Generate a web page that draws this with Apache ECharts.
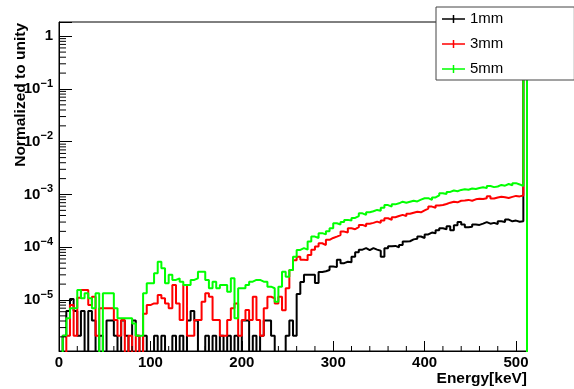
<!DOCTYPE html>
<html>
<head>
<meta charset="utf-8">
<script src="https://cdn.jsdelivr.net/npm/echarts@6/dist/echarts.min.js"></script>
<style>
  html, body { margin: 0; padding: 0; background: #fff; }
  #chart { width: 574px; height: 389px; }
</style>
</head>
<body>
<div id="chart"></div>
<script>
// histogram: 128 bins of 4 keV, 0 - 512 keV
const binWidth = 4;
const seriesNames = ['1mm', '3mm', '5mm'];
const seriesColors = ['#000000', '#ff0000', '#00ff00'];

const hist1mm = [
  0, 2.1e-6, 6.2e-6, 1.04e-5, 6.2e-6, 2.1e-6, 6.2e-6, 0, 6.2e-6, 4.1e-6,
  0, 2.1e-6, 0, 4.1e-6, 4.1e-6, 2.1e-6, 0, 4.1e-6, 2.1e-6, 0,
  4.1e-6, 2.1e-6, 0, 2.1e-6, 0, 0, 2.1e-6, 0, 2.1e-6, 0,
  0, 2.1e-6, 0, 2.1e-6, 0, 4.1e-6, 6.2e-6, 4.1e-6, 0, 0,
  2.1e-6, 0, 2.1e-6, 0, 2.1e-6, 0, 2.1e-6, 0, 2.1e-6, 0,
  4.1e-6, 4.1e-6, 0, 2.1e-6, 0, 2.1e-6, 4.1e-6, 4.1e-6, 2.1e-6, 0,
  0, 0, 2.1e-6, 4.1e-6, 2.1e-6, 1.3e-5, 2.2e-5, 3.0e-5, 3.0e-5, 3.0e-5,
  2.1e-5, 3.4e-5, 3.5e-5, 3.7e-5, 4.3e-5, 4.2e-5, 5.8e-5, 5.0e-5, 5.3e-5, 5.2e-5,
  6.6e-5, 8.0e-5, 9.0e-5, 9.6e-5, 8.8e-5, 9.6e-5, 9.0e-5, 8.6e-5, 6.6e-5, 9.6e-5,
  1.05e-4, 1.06e-4, 1.0e-4, 1.1e-4, 1.28e-4, 1.3e-4, 1.41e-4, 1.45e-4, 1.6e-4, 1.5e-4,
  1.75e-4, 1.9e-4, 1.85e-4, 2.1e-4, 2.3e-4, 2.2e-4, 2.5e-4, 2.1e-4, 2.6e-4, 3.0e-4,
  2.7e-4, 2.4e-4, 2.45e-4, 2.7e-4, 2.65e-4, 2.8e-4, 3.0e-4, 2.8e-4, 2.9e-4, 2.75e-4,
  3.1e-4, 3.0e-4, 3.35e-4, 3.1e-4, 3.2e-4, 3.05e-4, 3.1e-4, 0.99
];

const hist3mm = [
  0, 0, 2.1e-6, 8.0e-6, 2.1e-6, 1.1e-5, 1.55e-5, 1.55e-5, 8.0e-6, 1.15e-5,
  2.1e-6, 7.0e-6, 7.0e-6, 7.0e-6, 7.0e-6, 4.2e-6, 2.1e-6, 4.2e-6, 0, 2.1e-6,
  0, 2.1e-6, 0, 5.5e-6, 8.0e-6, 8.6e-6, 8.6e-6, 1.24e-5, 1.08e-5, 8.6e-6,
  7.0e-6, 1.93e-5, 8.6e-6, 4.2e-6, 1.93e-5, 2.1e-6, 2.1e-6, 4.2e-6, 4.2e-6, 9.3e-6,
  1.34e-5, 1.15e-5, 4.2e-6, 4.2e-6, 2.1e-6, 2.1e-6, 4.2e-6, 7.0e-6, 8.6e-6, 2.1e-6,
  4.2e-6, 6.5e-6, 4.2e-6, 1.15e-5, 4.2e-6, 2.1e-6, 7.0e-6, 1.15e-5, 1.08e-5, 8.6e-6,
  1.15e-5, 6.4e-6, 1.67e-5, 3.7e-5, 5.7e-5, 6.6e-5, 5.8e-5, 5.7e-5, 7.1e-5, 9.0e-5,
  1.03e-4, 1.19e-4, 1.1e-4, 1.38e-4, 1.5e-4, 1.59e-4, 1.7e-4, 1.98e-4, 1.9e-4, 2.29e-4,
  2.2e-4, 2.4e-4, 2.65e-4, 2.5e-4, 2.8e-4, 2.9e-4, 3.06e-4, 2.9e-4, 3.2e-4, 3.55e-4,
  3.3e-4, 3.7e-4, 3.9e-4, 4.1e-4, 3.9e-4, 4.3e-4, 4.5e-4, 4.7e-4, 4.6e-4, 5.0e-4,
  5.4e-4, 5.9e-4, 5.6e-4, 6.2e-4, 6.3e-4, 6.6e-4, 7.0e-4, 7.3e-4, 7.1e-4, 7.6e-4,
  7.7e-4, 7.9e-4, 7.6e-4, 8.1e-4, 8.3e-4, 8.2e-4, 8.5e-4, 9.3e-4, 8.4e-4, 8.8e-4,
  9.1e-4, 8.9e-4, 8.6e-4, 9.0e-4, 9.4e-4, 9.2e-4, 9.6e-4, 0.97
];

const hist5mm = [
  0, 2.1e-6, 4.5e-6, 7.0e-6, 7.0e-6, 1.55e-5, 1.08e-5, 1.34e-5, 1.08e-5, 7.0e-6,
  1.34e-5, 0, 1.34e-5, 1.34e-5, 1.34e-5, 7.0e-6, 4.5e-6, 4.5e-6, 4.5e-6, 4.5e-6,
  3.6e-6, 2.1e-6, 2.1e-6, 1.34e-5, 2.07e-5, 2.07e-5, 3.2e-5, 5.3e-5, 4.0e-5, 2.07e-5,
  3.0e-5, 2.4e-5, 2.58e-5, 2.23e-5, 1.93e-5, 1.93e-5, 2.4e-5, 2.58e-5, 3.45e-5, 3.45e-5,
  2.4e-5, 1.67e-5, 2.23e-5, 1.67e-5, 1.93e-5, 1.93e-5, 1.44e-5, 2.58e-5, 4.5e-6, 1.67e-5,
  1.67e-5, 1.93e-5, 2.23e-5, 2.4e-5, 2.4e-5, 2.23e-5, 2.23e-5, 1.79e-5, 1.67e-5, 9.3e-6,
  1.79e-5, 3.45e-5, 2.77e-5, 3.7e-5, 6.6e-5, 8.9e-5, 9.6e-5, 9.0e-5, 1.28e-4, 1.59e-4,
  1.5e-4, 1.85e-4, 1.75e-4, 2.0e-4, 2.29e-4, 2.85e-4, 2.7e-4, 3.0e-4, 3.3e-4, 3.2e-4,
  3.6e-4, 3.9e-4, 4.4e-4, 4.1e-4, 4.6e-4, 4.8e-4, 5.1e-4, 4.9e-4, 5.6e-4, 6.3e-4,
  5.9e-4, 6.5e-4, 6.8e-4, 7.3e-4, 7.0e-4, 7.3e-4, 7.6e-4, 7.4e-4, 8.0e-4, 8.5e-4,
  8.5e-4, 7.9e-4, 8.8e-4, 9.6e-4, 1.06e-3, 1.02e-3, 1.12e-3, 1.19e-3, 1.15e-3, 1.22e-3,
  1.26e-3, 1.23e-3, 1.3e-3, 1.27e-3, 1.33e-3, 1.37e-3, 1.32e-3, 1.45e-3, 1.38e-3, 1.42e-3,
  1.52e-3, 1.47e-3, 1.58e-3, 1.5e-3, 1.64e-3, 1.55e-3, 1.45e-3, 0.95
];

const histograms = [hist1mm, hist3mm, hist5mm];

// axis ranges and tick layout
const xMax = 512;
const xMajor = 100;
const xMinor = 20;
const yMin = 1.08e-6;
const yMax = 1.86;
const yDecades = [-6, -5, -4, -3, -2, -1, 0];
const yMinorMult = [2, 3, 4, 5, 6, 7, 8, 9];

const FONT = '"Liberation Sans", Arial, Helvetica, sans-serif';
const EMPTY = 1e-9; // empty bins drop below the axis and get clipped

// outline of a ROOT style histogram: left edge of every bin, then close at the last edge
function histOutline(vals) {
  const pts = [[0, EMPTY]];
  vals.forEach((v, i) => pts.push([i * binWidth, v > 0 ? v : EMPTY]));
  const end = vals.length * binWidth;
  pts.push([end, vals[vals.length - 1] || EMPTY]);
  pts.push([end, EMPTY]);
  return pts;
}

const yMinorTicks = [];
yDecades.forEach(d => yMinorMult.forEach(m => {
  const v = m * Math.pow(10, d);
  if (v > yMin && v < yMax) yMinorTicks.push([0, v]);
}));
const xMinorTicks = [];
for (let v = xMinor; v < xMax; v += xMinor) {
  if (v % xMajor !== 0) xMinorTicks.push([v, yMin]);
}

const chart = echarts.init(document.getElementById('chart'), null, { renderer: 'canvas' });

const option = {
  animation: false,
  backgroundColor: '#fff',
  grid: {
    left: 59, right: 47, top: 22, bottom: 38,
    show: true, borderColor: '#000', borderWidth: 1,
    outerBoundsMode: 'none'
  },
  legend: {
    data: seriesNames,
    orient: 'vertical',
    left: 436, top: 7,
    itemWidth: 23, itemHeight: 8, itemGap: 7,
    padding: [3, 71, 2, 6],
    backgroundColor: '#fff',
    borderColor: '#444', borderWidth: 1,
    icon: 'path://M0,3.25h23v1.5h-23z M10.75,0h1.5v8h-1.5z',
    itemStyle: { borderWidth: 0 },
    selectedMode: false,
    textStyle: { fontFamily: FONT, fontSize: 15, color: '#000', lineHeight: 18 },
    z: 10
  },
  xAxis: {
    type: 'value',
    min: 0, max: xMax, interval: xMajor,
    axisLine: { show: true, lineStyle: { color: '#000', width: 1 } },
    axisTick: { show: true, inside: true, length: 10, lineStyle: { color: '#000' } },
    axisLabel: {
      color: '#000', fontFamily: FONT, fontWeight: 'bold', fontSize: 15,
      margin: 4, showMaxLabel: false
    },
    splitLine: { show: false }
  },
  yAxis: {
    type: 'log', logBase: 10,
    min: yMin, max: yMax,
    axisLine: { show: true, lineStyle: { color: '#000', width: 1 } },
    axisTick: { show: true, inside: true, length: 13, lineStyle: { color: '#000' } },
    axisLabel: {
      margin: 6,
      formatter: function (v) {
        const e = Math.log10(v);
        const r = Math.round(e);
        if (Math.abs(e - r) > 1e-6) return '';
        if (r === 0) return '{b|1}';
        return '{b|10}{s|' + (r < 0 ? '\u2212' : '') + Math.abs(r) + '}';
      },
      rich: {
        b: { fontFamily: FONT, fontWeight: 'bold', fontSize: 15, color: '#000', lineHeight: 22 },
        s: { fontFamily: FONT, fontWeight: 'bold', fontSize: 11, color: '#000', verticalAlign: 'top' }
      }
    },
    splitLine: { show: false }
  },
  graphic: [
    {
      type: 'text', x: 21, y: 23, rotation: Math.PI / 2,
      style: {
        text: 'Normalized to unity', fill: '#000',
        fontFamily: FONT, fontWeight: 'bold', fontSize: 15.5,
        align: 'right', verticalAlign: 'middle'
      }
    },
    {
      type: 'text', x: 527, y: 379,
      style: {
        text: 'Energy[keV]', fill: '#000',
        fontFamily: FONT, fontWeight: 'bold', fontSize: 15.5,
        align: 'right', verticalAlign: 'middle'
      }
    }
  ],
  series: histograms.map((h, i) => ({
    name: seriesNames[i],
    type: 'line',
    step: 'end',
    data: histOutline(h),
    symbol: 'none',
    clip: true,
    color: seriesColors[i],
    lineStyle: { color: seriesColors[i], width: 2 },
    z: 2 + i
  })).concat([
    {
      type: 'custom', silent: true, clip: false, z: 6,
      data: yMinorTicks,
      renderItem: (params, api) => {
        const p = api.coord([api.value(0), api.value(1)]);
        return { type: 'line', shape: { x1: p[0], y1: p[1], x2: p[0] + 7, y2: p[1] }, style: { stroke: '#000', lineWidth: 1 } };
      }
    },
    {
      type: 'custom', silent: true, clip: false, z: 6,
      data: xMinorTicks,
      renderItem: (params, api) => {
        const p = api.coord([api.value(0), api.value(1)]);
        return { type: 'line', shape: { x1: p[0], y1: p[1], x2: p[0], y2: p[1] - 5 }, style: { stroke: '#000', lineWidth: 1 } };
      }
    }
  ])
};

chart.setOption(option);
</script>
</body>
</html>
